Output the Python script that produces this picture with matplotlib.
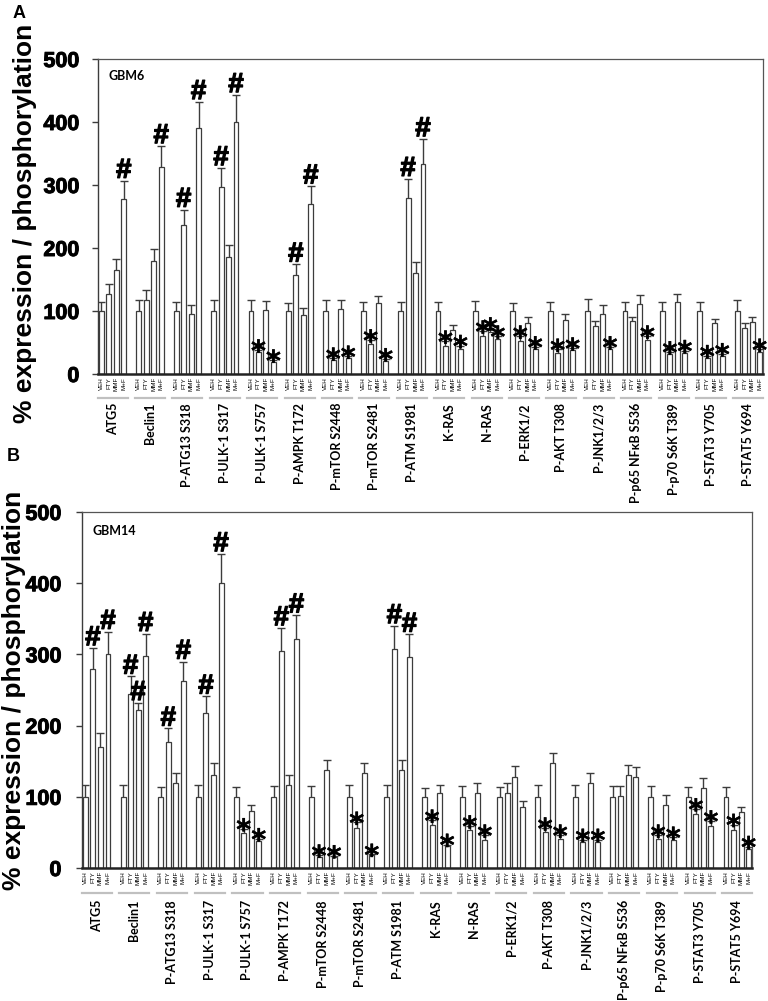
import numpy as np
import matplotlib
matplotlib.use('Agg')
import matplotlib.pyplot as plt
import matplotlib.transforms as mtransforms
import matplotlib.patheffects as pe

plt.rcParams['font.family'] = ['Liberation Sans', 'DejaVu Sans']

groups = ['ATG5', 'Beclin1', 'P-ATG13 S318', 'P-ULK-1 S317', 'P-ULK-1 S757',
          'P-AMPK T172', 'P-mTOR S2448', 'P-mTOR S2481', 'P-ATM S1981',
          'K-RAS', 'N-RAS', 'P-ERK1/2', 'P-AKT T308', 'P-JNK1/2/3',
          'P-p65 NFκB S536', 'P-p70 S6K T389', 'P-STAT3 Y705', 'P-STAT5 Y694']
treatments = ['VEH', 'FTY', 'MMF', 'M+F']

# GBM6 (panel A): means, upper error, marks
gbm6_mean = [[100, 127, 165, 277], [100, 117, 180, 328], [100, 236, 96, 390],
             [100, 297, 185, 400], [100, 35, 102, 19], [100, 157, 94, 270],
             [100, 22, 103, 26], [100, 48, 112, 21], [100, 280, 160, 333],
             [100, 45, 70, 40], [100, 60, 66, 56], [100, 52, 81, 39],
             [100, 34, 85, 38], [100, 76, 96, 39], [100, 84, 111, 54],
             [100, 31, 114, 33], [100, 26, 81, 28], [100, 73, 82, 35]]
gbm6_err = [[15, 16, 18, 30], [17, 16, 18, 34], [14, 25, 13, 42],
            [17, 30, 20, 43], [18, 3, 14, 3], [13, 17, 10, 28],
            [17, 3, 15, 2], [15, 6, 12, 3], [14, 30, 18, 40],
            [15, 7, 8, 5], [16, 8, 7, 4], [12, 8, 9, 4],
            [15, 5, 10, 3], [19, 8, 13, 4], [14, 7, 14, 6],
            [14, 4, 13, 4], [15, 3, 7, 4], [17, 8, 9, 4]]
gbm6_sig = [['', '', '', '#'], ['', '', '', '#'], ['', '#', '', '#'],
            ['', '#', '', '#'], ['', '*', '', '*'], ['', '#', '', '#'],
            ['', '*', '', '*'], ['', '*', '', '*'], ['', '#', '', '#'],
            ['', '*', '', '*'], ['', '*', '*', '*'], ['', '*', '', '*'],
            ['', '*', '', '*'], ['', '', '', '*'], ['', '', '', '*'],
            ['', '*', '', '*'], ['', '*', '', '*'], ['', '', '', '*']]

# GBM14 (panel B)
gbm14_mean = [[100, 279, 170, 300], [100, 244, 222, 298], [100, 177, 120, 262],
              [100, 218, 131, 400], [100, 49, 80, 38], [100, 305, 116, 322],
              [100, 16, 137, 15], [100, 56, 134, 18], [100, 308, 138, 297],
              [100, 60, 105, 31], [100, 53, 106, 40], [100, 105, 128, 85],
              [100, 51, 147, 41], [100, 37, 120, 37], [100, 101, 131, 128],
              [100, 41, 89, 39], [100, 76, 113, 59], [100, 54, 79, 26]]
gbm14_err = [[16, 30, 19, 32], [16, 25, 10, 31], [14, 19, 14, 28],
             [16, 23, 16, 41], [14, 6, 9, 3], [15, 32, 15, 33],
             [15, 2, 14, 2], [17, 8, 14, 1], [16, 32, 14, 31],
             [13, 7, 12, 2], [15, 6, 14, 6], [14, 14, 15, 9],
             [17, 5, 15, 5], [16, 3, 14, 3], [15, 14, 14, 14],
             [15, 5, 13, 4], [14, 7, 14, 7], [14, 7, 7, 4]]
gbm14_sig = [['', '#', '', '#'], ['', '#', '#', '#'], ['', '#', '', '#'],
             ['', '#', '', '#'], ['', '*', '', '*'], ['', '#', '', '#'],
             ['', '*', '', '*'], ['', '*', '', '*'], ['', '#', '', '#'],
             ['', '*', '', '*'], ['', '*', '', '*'], ['', '', '', ''],
             ['', '*', '', '*'], ['', '*', '', '*'], ['', '', '', ''],
             ['', '*', '', '*'], ['', '*', '', '*'], ['', '*', '', '*']]

fig = plt.figure(figsize=(7.68, 10.01), dpi=100)
axA = fig.add_axes([98 / 768, 1 - 374 / 1001, 665 / 768, 315 / 1001])
axB = fig.add_axes([82 / 768, 1 - 868 / 1001, 670 / 768, 356 / 1001])

edge = '#3c3c3c'
heavy = [pe.withStroke(linewidth=0.9, foreground='black')]
light = [pe.withStroke(linewidth=0.3, foreground='black')]


def draw_panel(ax, means, errs, sigs, name, sep_px, lab_px, ypad):
    means = np.array(means, dtype=float)
    errs = np.array(errs, dtype=float)
    x = np.array([g * 5 + j for g in range(len(groups)) for j in range(4)])
    m = means.ravel()
    e = errs.ravel()
    ax.bar(x, m, width=0.66, color='white', edgecolor=edge, linewidth=0.9, zorder=2)
    eb = ax.errorbar(x, m, yerr=[np.zeros_like(e), e], fmt='none', ecolor=edge,
                     elinewidth=1.0, capsize=3, capthick=1.0, zorder=3)
    eb[1][0].set_visible(False)
    for xi, mi, ei, s in zip(x, m, e, np.array(sigs).ravel()):
        if s == '#':
            ax.annotate('#', (xi, mi + ei), xytext=(0, 2), textcoords='offset points',
                        ha='center', va='baseline', fontsize=20, fontweight='bold',
                        path_effects=heavy, zorder=4)
        elif s == '*':
            ax.annotate('*', (xi, mi + ei), xytext=(0, -7.5), textcoords='offset points',
                        ha='center', va='baseline', fontsize=20.5, fontweight='bold',
                        family='DejaVu Sans', path_effects=light, zorder=4)
    ax.set_xlim(-0.45, 88.45)
    ax.set_ylim(0, 500)
    ax.set_yticks([0, 100, 200, 300, 400, 500])
    ax.tick_params(axis='y', labelsize=15.5, length=4, width=1, pad=ypad, color=edge)
    for t in ax.get_yticklabels():
        t.set_fontweight('bold')
        t.set_path_effects([pe.withStroke(linewidth=0.7, foreground='black')])
    ax.set_xticks(x)
    ax.set_xticklabels(treatments * len(groups), rotation=90, fontsize=4.5)
    ax.tick_params(axis='x', length=0, pad=2)
    for sp in ['top', 'right']:
        ax.spines[sp].set_color('#555555')
        ax.spines[sp].set_linewidth(0.9)
    ax.spines['left'].set_color(edge)
    ax.spines['left'].set_linewidth(1.0)
    ax.spines['bottom'].set_color('#222222')
    ax.spines['bottom'].set_linewidth(1.8)
    trans = ax.get_xaxis_transform()
    sep_t = trans + mtransforms.ScaledTranslation(0, -sep_px / 100, fig.dpi_scale_trans)
    lab_t = trans + mtransforms.ScaledTranslation(0, -lab_px / 100, fig.dpi_scale_trans)
    for g, label in enumerate(groups):
        x0 = g * 5
        ax.plot([x0 - 0.5, x0 + 3.5], [0, 0], color='#c0c0c0', lw=1.6,
                transform=sep_t, clip_on=False)
        ax.text(x0 + 1.5, 0, label, transform=lab_t, rotation=90, ha='center', va='top',
                fontsize=9, fontweight='bold', family=['Lato', 'DejaVu Sans'])
    ax.text(0.016, 0.946, name, transform=ax.transAxes, ha='left', va='center',
            fontsize=9, fontweight='bold', family=['Lato', 'DejaVu Sans'])


draw_panel(axA, gbm6_mean, gbm6_err, gbm6_sig, 'GBM6', 24, 29, 9.4)
draw_panel(axB, gbm14_mean, gbm14_err, gbm14_sig, 'GBM14', 25, 32, 10.8)

ylab = '% expression / phosphorylation'
fig.text(25 / 768, 1 - 223 / 1001, ylab, rotation=90, ha='center', va='center',
         fontsize=19, fontweight='bold')
fig.text(14 / 768, 1 - 690 / 1001, ylab, rotation=90, ha='center', va='center',
         fontsize=19, fontweight='bold')
fig.text(13 / 768, 1 - 5 / 1001, 'A', ha='left', va='top', fontsize=13, fontweight='bold')
fig.text(7 / 768, 1 - 448 / 1001, 'B', ha='left', va='top', fontsize=13, fontweight='bold')

fig.savefig('out.png', dpi=100)
